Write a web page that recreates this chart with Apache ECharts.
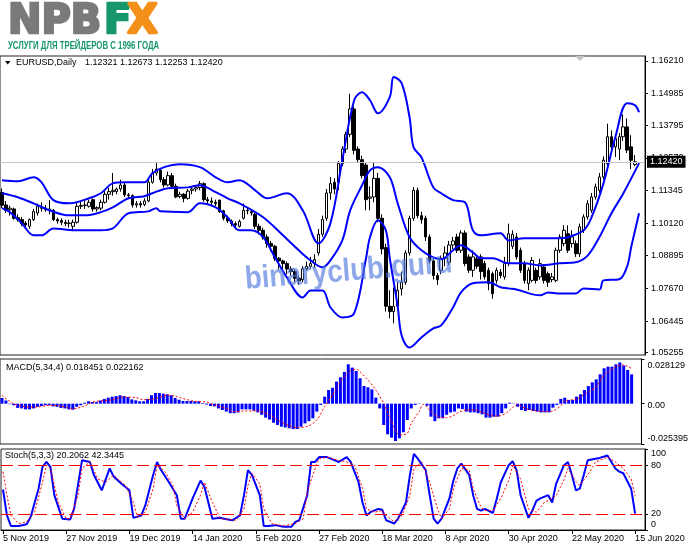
<!DOCTYPE html>
<html>
<head>
<meta charset="utf-8">
<script src="https://cdn.jsdelivr.net/npm/echarts@6.0.0/dist/echarts.min.js"></script>
<style>
  html, body { margin: 0; padding: 0; background: #fff; }
  #chart { width: 691px; height: 549px; }
</style>
</head>
<body>
<div id="chart"></div>
<script>
// x axis: one label every 16 bars
var dateLabels = ['5 Nov 2019', '27 Nov 2019', '19 Dec 2019', '14 Jan 2020', '5 Feb 2020', '27 Feb 2020',
  '18 Mar 2020', '8 Apr 2020', '30 Apr 2020', '22 May 2020', '15 Jun 2020'];
var labelStep = 16;
var slotCount = 163;

// right-hand tick labels
var priceTicks = [1.16210, 1.14985, 1.13795, 1.12570, 1.11345, 1.10120, 1.08895, 1.07670, 1.06445, 1.05255];
var macdTicks = [-0.025395, 0, 0.028129];
var stochTicks = [0, 20, 80, 100];
var stochLevels = [20, 80];
var lastPrice = 1.12420;

// daily bars: [open, close, low, high]
var candles = [
  [1.1127,1.1079,1.1068,1.1142],[1.1080,1.1060,1.1050,1.1095],[1.1062,1.1068,1.1040,1.1078],[1.1065,1.1030,1.1025,1.1070],
  [1.1032,1.1025,1.1018,1.1045],[1.1025,1.1010,1.1000,1.1035],[1.1012,1.1005,1.0995,1.1020],[1.1000,1.1025,1.0990,1.1030],
  [1.1025,1.1055,1.1020,1.1065],[1.1050,1.1075,1.1040,1.1085],[1.1070,1.1068,1.1055,1.1090],[1.1068,1.1062,1.1055,1.1080],
  [1.1058,1.1065,1.1045,1.1098],[1.1060,1.1025,1.1020,1.1065],[1.1025,1.1020,1.1010,1.1032],[1.1022,1.1015,1.1005,1.1030],
  [1.1015,1.1010,1.1000,1.1025],[1.1010,1.1012,1.0995,1.1025],[1.1000,1.1015,1.0982,1.1025],[1.1015,1.1075,1.1010,1.1090],
  [1.1075,1.1078,1.1065,1.1095],[1.1078,1.1080,1.1065,1.1100],[1.1075,1.1090,1.1070,1.1100],[1.1100,1.1065,1.1055,1.1105],
  [1.1065,1.1070,1.1055,1.1075],[1.1068,1.1090,1.1060,1.1100],[1.1090,1.1120,1.1085,1.1135],[1.1120,1.1130,1.1100,1.1145],
  [1.1130,1.1135,1.1115,1.1200],[1.1130,1.1140,1.1120,1.1145],[1.1140,1.1155,1.1130,1.1175],[1.1155,1.1118,1.1110,1.1165],
  [1.1118,1.1115,1.1105,1.1125],[1.1115,1.1080,1.1070,1.1120],[1.1080,1.1085,1.1070,1.1095],[1.1085,1.1080,1.1070,1.1095],
  [1.1082,1.1095,1.1075,1.1105],[1.1095,1.1165,1.1090,1.1175],[1.1165,1.1200,1.1160,1.1215],[1.1200,1.1215,1.1190,1.1240],
  [1.1210,1.1175,1.1165,1.1215],[1.1175,1.1155,1.1145,1.1185],[1.1155,1.1190,1.1150,1.1205],[1.1190,1.1150,1.1145,1.1200],
  [1.1150,1.1110,1.1105,1.1160],[1.1112,1.1120,1.1105,1.1130],[1.1120,1.1105,1.1090,1.1125],[1.1105,1.1132,1.1100,1.1140],
  [1.1135,1.1140,1.1120,1.1150],[1.1140,1.1145,1.1130,1.1155],[1.1145,1.1160,1.1135,1.1170],[1.1160,1.1100,1.1092,1.1165],
  [1.1100,1.1095,1.1085,1.1110],[1.1095,1.1090,1.1080,1.1108],[1.1090,1.1085,1.1075,1.1100],[1.1098,1.1055,1.1050,1.1100],
  [1.1058,1.1030,1.1022,1.1062],[1.1032,1.1020,1.1012,1.1040],[1.1020,1.1010,1.1000,1.1025],[1.1010,1.1005,1.0988,1.1018],
  [1.1000,1.1018,1.0995,1.1025],[1.1030,1.1060,1.1025,1.1085],[1.1060,1.1058,1.1045,1.1070],[1.1055,1.1050,1.1040,1.1065],
  [1.1045,1.1000,1.0990,1.1050],[1.1000,1.0985,1.0970,1.1010],[1.0985,1.0960,1.0950,1.0995],[1.0960,1.0935,1.0920,1.0970],
  [1.0935,1.0925,1.0905,1.0945],[1.0925,1.0880,1.0870,1.0930],[1.0880,1.0870,1.0840,1.0885],[1.0870,1.0860,1.0840,1.0875],
  [1.0860,1.0840,1.0820,1.0868],[1.0840,1.0830,1.0815,1.0850],[1.0830,1.0805,1.0790,1.0838],[1.0805,1.0795,1.0780,1.0815],
  [1.0800,1.0840,1.0790,1.0850],[1.0840,1.0850,1.0835,1.0868],[1.0850,1.0860,1.0840,1.0885],[1.0860,1.0875,1.0845,1.0895],
  [1.0900,1.0970,1.0890,1.0990],[1.0970,1.1025,1.0960,1.1040],[1.1030,1.1125,1.1020,1.1140],[1.1125,1.1160,1.1100,1.1185],
  [1.1165,1.1140,1.1120,1.1180],[1.1165,1.1235,1.1135,1.1245],[1.1235,1.1290,1.1225,1.1300],[1.1290,1.1345,1.1275,1.1355],
  [1.1345,1.1440,1.1335,1.1497],[1.1440,1.1285,1.1270,1.1450],[1.1290,1.1250,1.1240,1.1300],[1.1250,1.1190,1.1180,1.1265],
  [1.1230,1.1100,1.1060,1.1240],[1.1105,1.1110,1.1060,1.1150],[1.1110,1.1180,1.1090,1.1240],[1.1180,1.1030,1.1015,1.1200],
  [1.1030,1.0915,1.0895,1.1045],[1.0920,1.0700,1.0680,1.0935],[1.0700,1.0680,1.0655,1.0760],[1.0680,1.0700,1.0636,1.0770],
  [1.0700,1.0760,1.0690,1.0790],[1.0765,1.0790,1.0740,1.0830],[1.0790,1.0900,1.0780,1.0910],[1.0900,1.1030,1.0890,1.1040],
  [1.1030,1.1135,1.1020,1.1147],[1.1135,1.1040,1.1030,1.1145],[1.1040,1.1025,1.1010,1.1055],[1.1030,1.0960,1.0945,1.1040],
  [1.0960,1.0870,1.0860,1.0970],[1.0870,1.0815,1.0800,1.0880],[1.0815,1.0800,1.0780,1.0825],[1.0835,1.0880,1.0820,1.0890],
  [1.0880,1.0900,1.0850,1.0925],[1.0865,1.0930,1.0855,1.0945],[1.0930,1.0945,1.0915,1.0960],[1.0960,1.0910,1.0900,1.0972],
  [1.0910,1.0975,1.0900,1.0985],[1.0975,1.0860,1.0850,1.0985],[1.0885,1.0835,1.0825,1.0895],[1.0835,1.0885,1.0810,1.0910],
  [1.0878,1.0850,1.0840,1.0890],[1.0885,1.0830,1.0800,1.0895],[1.0860,1.0810,1.0800,1.0870],[1.0835,1.0785,1.0760,1.0845],
  [1.0822,1.0747,1.0728,1.0830],[1.0797,1.0835,1.0785,1.0845],[1.0828,1.0815,1.0805,1.0840],[1.0810,1.0860,1.0800,1.0885],
  [1.0860,1.0972,1.0850,1.1010],[1.0925,1.0970,1.0915,1.0985],[1.0960,1.0885,1.0875,1.0975],[1.0910,1.0835,1.0825,1.0920],
  [1.0860,1.0797,1.0785,1.0870],[1.0785,1.0835,1.0760,1.0845],[1.0797,1.0872,1.0790,1.0885],[1.0835,1.0797,1.0785,1.0845],
  [1.0810,1.0860,1.0800,1.0878],[1.0847,1.0797,1.0785,1.0858],[1.0822,1.0790,1.0772,1.0830],[1.0800,1.0810,1.0790,1.0825],
  [1.0797,1.0910,1.0790,1.0920],[1.0910,1.0960,1.0900,1.0970],[1.0935,1.0985,1.0925,1.1004],[1.0972,1.0910,1.0900,1.1004],
  [1.0935,1.0960,1.0920,1.0985],[1.0935,1.0897,1.0885,1.0947],[1.0897,1.0998,1.0885,1.1010],[1.0985,1.1035,1.0975,1.1045],
  [1.1035,1.1085,1.1025,1.1098],[1.1060,1.1110,1.1050,1.1125],[1.1110,1.1148,1.1100,1.1160],[1.1135,1.1185,1.1125,1.1200],
  [1.1185,1.1248,1.1175,1.1262],[1.1235,1.1336,1.1225,1.1385],[1.1336,1.1298,1.1280,1.1360],[1.1298,1.1330,1.1260,1.1340],
  [1.1290,1.1336,1.1248,1.1350],[1.1336,1.1373,1.1320,1.1420],[1.1373,1.1286,1.1275,1.1405],[1.1298,1.1248,1.1215,1.1342],
  [1.12321,1.12420,1.12253,1.12673]
];

// Bollinger bands, read as [bar, price] points along each curve
var upperBand = [[0,1.1173],[4,1.1169],[8,1.1184],[10,1.1165],[13,1.1098],[17,1.1086],[22,1.1105],[25,1.1124],
  [28,1.1161],[31,1.1165],[36,1.1165],[38,1.1199],[41,1.1222],[45,1.1233],[50,1.1222],[54,1.1184],[57,1.1165],
  [60,1.1173],[64,1.1135],[67,1.1105],[72,1.1124],[76,1.1060],[80,1.0936],[83,1.1011],[86,1.1248],[89,1.1473],
  [91,1.1503],[93,1.1473],[95,1.1424],[98,1.1485],[99,1.1560],[101,1.1537],[103,1.1409],[104,1.1297],[106,1.1259],
  [109,1.1146],[111,1.1124],[114,1.1098],[117,1.1090],[119,1.0985],[121,1.0966],[126,1.0974],[128,1.0947],
  [132,1.0955],[141,1.0955],[143,1.0959],[147,1.0985],[149,1.1034],[152,1.1161],[155,1.1334],[158,1.1462],
  [160,1.1454],[161,1.1428]];
var middleBand = [[0,1.1124],[4,1.1109],[8,1.1086],[12,1.1060],[17,1.1041],[21,1.1041],[25,1.1053],[28,1.1071],
  [32,1.1105],[36,1.1113],[38,1.1124],[42,1.1143],[47,1.1146],[50,1.1154],[54,1.1128],[57,1.1105],[60,1.1086],
  [66,1.1034],[71,1.0966],[75,1.0910],[78,1.0872],[81,1.0846],[83,1.0872],[86,1.0947],[88,1.1060],[91,1.1154],
  [93,1.1210],[95,1.1222],[98,1.1184],[100,1.1086],[103,1.0959],[106,1.0910],[109,1.0883],[111,1.0876],[114,1.0910],
  [116,1.0929],[119,1.0902],[121,1.0880],[124,1.0880],[128,1.0861],[132,1.0861],[136,1.0853],[141,1.0861],
  [145,1.0865],[148,1.0890],[151,1.0960],[154,1.1048],[157,1.1123],[161,1.1237]];
var lowerBand = [[0,1.1068],[2,1.1053],[5,1.1011],[8,1.0966],[10,1.0966],[13,1.0992],[18,1.0985],[25,1.0985],
  [28,1.0992],[32,1.1049],[37,1.1056],[39,1.1068],[40,1.1056],[47,1.1053],[50,1.1086],[54,1.1071],[57,1.1034],
  [60,1.0985],[63,1.0985],[66,1.0959],[69,1.0883],[72,1.0808],[76,1.0733],[78,1.0759],[81,1.0759],[83,1.0696],
  [86,1.0658],[89,1.0673],[92,1.0880],[93,1.0959],[95,1.1023],[97,1.0985],[98,1.0880],[100,1.0700],[101,1.0590],
  [103,1.0545],[106,1.0583],[109,1.0617],[111,1.0628],[114,1.0696],[116,1.0752],[119,1.0786],[123,1.0790],
  [126,1.0771],[128,1.0767],[130,1.0763],[136,1.0741],[138,1.0752],[141,1.0748],[145,1.0748],[147,1.0767],
  [151,1.0763],[152,1.0797],[156,1.0801],[158,1.0850],[159,1.0921],[161,1.1049]];

// MACD(5,34,4) histogram, one value per bar
var macdHist = [
  0.0036, 0.0020, -0.0003, -0.0010, -0.0027, -0.0030, -0.0036, -0.0036, -0.0030, -0.0020,
  -0.0015, -0.0010, -0.0010, -0.0017, -0.0020, -0.0027, -0.0030, -0.0036, -0.0038, -0.0020,
  -0.0010, 0.0006, 0.0015, 0.0010, 0.0010, 0.0020, 0.0030, 0.0038, 0.0044, 0.0048,
  0.0053, 0.0048, 0.0042, 0.0027, 0.0021, 0.0015, 0.0015, 0.0030, 0.0053, 0.0067,
  0.0067, 0.0063, 0.0059, 0.0053, 0.0036, 0.0025, 0.0017, 0.0017, 0.0017, 0.0015,
  0.0015, 0.0004, -0.0006, -0.0015, -0.0017, -0.0030, -0.0040, -0.0050, -0.0060, -0.0060,
  -0.0055, -0.0036, -0.0036, -0.0036, -0.0044, -0.0055, -0.0070, -0.0088, -0.0100, -0.0120,
  -0.0134, -0.0145, -0.0150, -0.0155, -0.0160, -0.0160, -0.0145, -0.0124, -0.0110, -0.0092,
  -0.0050, -0.0008, 0.0044, 0.0086, 0.0100, 0.0139, 0.0166, 0.0200, 0.0248, 0.0227,
  0.0206, 0.0160, 0.0111, 0.0103, 0.0090, 0.0038, -0.0030, -0.0134, -0.0193, -0.0214,
  -0.0235, -0.0218, -0.0180, -0.0103, -0.0030, -0.0008, 0.0002, 0.0000, -0.0013, -0.0082,
  -0.0110, -0.0092, -0.0092, -0.0070, -0.0055, -0.0050, -0.0030, -0.0034, -0.0050, -0.0055,
  -0.0055, -0.0060, -0.0067, -0.0088, -0.0088, -0.0082, -0.0082, -0.0060, -0.0030, 0.0006,
  0.0002, -0.0019, -0.0040, -0.0046, -0.0040, -0.0046, -0.0050, -0.0055, -0.0055, -0.0055,
  -0.0025, -0.0008, 0.0030, 0.0038, 0.0023, 0.0023, 0.0044, 0.0059, 0.0086, 0.0111,
  0.0134, 0.0153, 0.0185, 0.0223, 0.0233, 0.0233, 0.0248, 0.0260, 0.0240, 0.0212,
  0.018451
];
var macdSignal = [[0,0.0053],[3,0],[7,-0.0021],[9,-0.0021],[12,-0.0010],[15,-0.0015],[18,-0.0032],[21,-0.0015],
  [23,0.0010],[28,0.0025],[31,0.0042],[34,0.0038],[36,0.0025],[39,0.0032],[42,0.0053],[44,0.0048],[46,0.0032],
  [49,0.0015],[52,0.0010],[54,-0.0008],[57,-0.0029],[59,-0.0050],[62,-0.0046],[65,-0.0046],[68,-0.0071],
  [70,-0.0103],[73,-0.0139],[75,-0.0151],[78,-0.0139],[80,-0.0103],[82,-0.0019],[84,0.0055],[86,0.0139],
  [88,0.0197],[90,0.0218],[91,0.0200],[93,0.0149],[95,0.0086],[97,0.0002],[99,-0.0113],[101,-0.0197],
  [103,-0.0187],[104,-0.0124],[106,-0.0050],[107,-0.0004],[108,-0.0020],[109,-0.0050],[111,-0.0082],
  [113,-0.0088],[115,-0.0071],[116,-0.0055],[118,-0.0040],[120,-0.0040],[122,-0.0055],[125,-0.0078],
  [126,-0.0078],[128,-0.0061],[130,-0.0019],[131,-0.0008],[133,-0.0029],[136,-0.0046],[138,-0.0050],
  [140,-0.0046],[142,-0.0013],[143,0.0017],[146,0.0029],[148,0.0059],[151,0.0107],[153,0.0181],[156,0.0233],
  [158,0.0244],[159,0.0235],[160,0.022162]];

// Stochastic(5,3,3) main and signal, [bar, value] vertices
var stochMain = [[0,50],[1,18],[2,5],[4,5],[6,7],[7,16],[9,51],[10,78],[11,84],[12,78],[13,43],[15,14],[17,13],
  [18,26],[20,86],[22,84],[23,68],[25,49],[27,76],[28,66],[30,57],[32,49],[33,15],[35,18],[36,30],[38,68],[39,84],
  [40,74],[42,59],[44,43],[45,14],[46,14],[48,39],[50,61],[51,53],[53,14],[55,15],[56,14],[58,12],[60,18],[61,43],
  [62,74],[63,68],[65,43],[66,5],[67,5],[69,6],[71,4],[73,4],[74,10],[75,12],[77,43],[78,84],[79,84],[80,90],
  [82,90],[84,86],[85,84],[87,90],[88,84],[90,59],[91,34],[92,18],[93,22],[95,26],[96,25],[97,12],[98,10],[99,8],
  [100,14],[102,34],[103,68],[104,94],[105,88],[107,74],[108,43],[109,14],[110,8],[111,14],[113,39],[114,61],
  [115,76],[116,82],[118,68],[119,43],[120,26],[121,24],[122,26],[124,21],[125,39],[126,59],[128,80],[129,85],
  [130,74],[131,43],[133,15],[134,24],[135,36],[136,39],[138,43],[139,34],[140,57],[142,80],[143,84],[144,68],
  [145,49],[146,51],[147,68],[148,86],[150,88],[151,89],[153,92],[154,84],[155,76],[156,72],[157,70],[159,51],
  [160,20.2062]];
var stochSignal = [[0,72],[1,43],[2,18],[4,8],[6,10],[8,22],[10,59],[11,80],[12,76],[14,34],[16,14],[17,14],
  [19,43],[20,76],[22,84],[24,63],[26,59],[28,68],[29,63],[31,55],[33,34],[34,16],[36,22],[38,51],[39,80],[41,72],
  [43,55],[44,30],[46,14],[48,22],[50,43],[51,59],[53,34],[55,14],[59,12],[61,26],[62,55],[63,70],[65,57],[66,26],
  [68,8],[71,5],[74,8],[76,14],[77,47],[79,76],[80,88],[82,90],[85,86],[87,84],[89,80],[91,51],[92,26],[94,22],
  [96,24],[97,18],[99,10],[101,18],[103,43],[104,76],[106,84],[108,59],[110,26],[111,14],[113,26],[114,51],
  [116,76],[118,74],[119,51],[121,28],[122,24],[124,24],[126,39],[128,61],[129,80],[131,63],[133,26],[135,22],
  [137,34],[139,39],[140,42],[142,62],[143,76],[145,60],[146,55],[148,68],[150,84],[153,90],[155,84],[157,76],
  [159,63],[160,42.3445]];

var categories = [];
for (var i = 0; i < slotCount; i++) categories.push(String(i));

function isLabelBar(idx) {
  return idx % labelStep === 0 && idx / labelStep < dateLabels.length;
}

var FONT = '"Liberation Sans", Arial, sans-serif';

var chart = echarts.init(document.getElementById('chart'), null, { renderer: 'canvas' });

function hiddenX(gi) {
  return {
    gridIndex: gi, type: 'category', data: categories, boundaryGap: true,
    axisLine: { show: false }, axisTick: { show: false }, axisLabel: { show: false }, splitLine: { show: false }
  };
}

var option = {
  animation: false,
  backgroundColor: '#fff',
  textStyle: { fontFamily: FONT, fontSize: 9, color: '#000' },
  grid: [
    { left: 0, top: 56, width: 645, height: 299, show: true, borderColor: '#222', borderWidth: 1 },
    { left: 0, top: 359, width: 645, height: 85, show: true, borderColor: '#222', borderWidth: 1 },
    { left: 0, top: 449, width: 645, height: 81, show: true, borderColor: '#222', borderWidth: 1 }
  ],
  xAxis: [
    hiddenX(0),
    hiddenX(1),
    {
      gridIndex: 2, type: 'category', data: categories, boundaryGap: true,
      axisLine: { show: true, lineStyle: { color: '#000' } },
      axisTick: { show: true, alignWithLabel: true, length: 4, interval: isLabelBar, lineStyle: { color: '#000' } },
      axisLabel: {
        interval: isLabelBar, align: 'left', margin: 4, fontSize: 9, color: '#000',
        formatter: function (v, idx) { return dateLabels[idx / labelStep] || ''; }
      },
      splitLine: { show: false }
    }
  ],
  yAxis: [
    {
      gridIndex: 0, type: 'value', position: 'right', min: 1.0517, max: 1.1639,
      splitLine: { show: false },
      axisLine: { show: true, lineStyle: { color: '#000' } },
      axisTick: { show: true, length: 3, customValues: priceTicks, lineStyle: { color: '#000' } },
      axisLabel: { customValues: priceTicks, margin: 6, fontSize: 9, color: '#000',
        formatter: function (v) { return v.toFixed(5); } }
    },
    {
      gridIndex: 1, type: 'value', position: 'right', min: macdTicks[0], max: macdTicks[2],
      splitLine: { show: false },
      axisLine: { show: true, lineStyle: { color: '#000' } },
      axisTick: { show: true, length: 3, customValues: macdTicks, lineStyle: { color: '#000' } },
      axisLabel: {
        customValues: macdTicks, margin: 6, fontSize: 9, color: '#000',
        formatter: function (v) {
          if (v > 0.01) return '{t|' + v.toFixed(6) + '}';
          if (v < -0.01) return '{b|' + v.toFixed(6) + '}';
          return '{z|0.00}';
        },
        rich: {
          t: { padding: [13, 0, 0, 0], fontSize: 9, color: '#000', fontFamily: FONT },
          b: { padding: [0, 0, 11, 0], fontSize: 9, color: '#000', fontFamily: FONT },
          z: { padding: [4, 0, 0, 0], fontSize: 9, color: '#000', fontFamily: FONT }
        }
      }
    },
    {
      gridIndex: 2, type: 'value', position: 'right', min: 0, max: 100,
      splitLine: { show: false },
      axisLine: { show: true, lineStyle: { color: '#000' } },
      axisTick: { show: true, length: 3, customValues: stochTicks, lineStyle: { color: '#000' } },
      axisLabel: {
        customValues: stochTicks, margin: 6, fontSize: 9, color: '#000',
        formatter: function (v) {
          if (v === 100) return '{t|100}';
          if (v === 0) return '{b|0}';
          return String(v);
        },
        rich: {
          t: { padding: [10, 0, 0, 0], fontSize: 9, color: '#000', fontFamily: FONT },
          b: { padding: [0, 0, 11, 0], fontSize: 9, color: '#000', fontFamily: FONT }
        }
      }
    }
  ],
  series: [
    {
      name: 'EURUSD', type: 'candlestick', xAxisIndex: 0, yAxisIndex: 0, data: candles,
      barWidth: 3, z: 2,
      itemStyle: { color: '#fff', color0: '#000', borderColor: '#000', borderColor0: '#000', borderWidth: 1 }
    },
    // current price line and its black tag sit on this helper series
    {
      name: 'last price', type: 'line', xAxisIndex: 0, yAxisIndex: 0, data: [], z: 1,
      markLine: {
        silent: true, symbol: ['none', 'none'], animation: false, precision: 5,
        lineStyle: { color: '#c4c4c4', type: 'solid', width: 1 },
        label: {
          show: true, position: 'end', distance: 2, formatter: lastPrice.toFixed(5),
          color: '#fff', backgroundColor: '#000', padding: [2, 3, 1, 3], fontSize: 9, fontFamily: FONT
        },
        data: [{ yAxis: lastPrice }]
      }
    },
    { name: 'BB upper', type: 'line', xAxisIndex: 0, yAxisIndex: 0, data: upperBand, smooth: 0.35,
      symbol: 'none', z: 3, lineStyle: { color: '#0000ff', width: 2 } },
    { name: 'BB middle', type: 'line', xAxisIndex: 0, yAxisIndex: 0, data: middleBand, smooth: 0.35,
      symbol: 'none', z: 3, lineStyle: { color: '#0000ff', width: 2 } },
    { name: 'BB lower', type: 'line', xAxisIndex: 0, yAxisIndex: 0, data: lowerBand, smooth: 0.35,
      symbol: 'none', z: 3, lineStyle: { color: '#0000ff', width: 2 } },
    { name: 'MACD', type: 'bar', xAxisIndex: 1, yAxisIndex: 1, data: macdHist, barWidth: 3,
      itemStyle: { color: '#0000ff' } },
    { name: 'MACD signal', type: 'line', xAxisIndex: 1, yAxisIndex: 1, data: macdSignal, smooth: 0.3,
      symbol: 'none', z: 3, lineStyle: { color: '#ff0000', width: 1, type: [2, 2] } },
    {
      name: 'Stoch', type: 'line', xAxisIndex: 2, yAxisIndex: 2, data: stochMain,
      symbol: 'none', z: 3, lineStyle: { color: '#0000ff', width: 2 },
      markLine: {
        silent: true, symbol: ['none', 'none'], label: { show: false }, animation: false,
        lineStyle: { color: '#ff0000', type: [12, 5], width: 1 },
        data: stochLevels.map(function (v) { return { yAxis: v }; })
      }
    },
    { name: 'Stoch signal', type: 'line', xAxisIndex: 2, yAxisIndex: 2, data: stochSignal,
      symbol: 'none', z: 3, lineStyle: { color: '#ff0000', width: 1, type: [2, 2] } }
  ],
  graphic: [
    { type: 'text', x: 8, y: 23, style: { text: 'NPB', font: 'bold 40px "DejaVu Sans"', fill: '#7a7a7a',
      stroke: '#7a7a7a', lineWidth: 2.5, verticalAlign: 'middle' } },
    { type: 'text', x: 104, y: 23, style: { text: 'F', font: 'bold 40px "DejaVu Sans"', fill: '#17976b',
      stroke: '#17976b', lineWidth: 2.5, verticalAlign: 'middle' } },
    { type: 'text', x: 127, y: 23, style: { text: 'X', font: 'bold 40px "DejaVu Sans"', fill: '#f39019',
      stroke: '#f39019', lineWidth: 2.5, verticalAlign: 'middle' } },
    { type: 'text', x: 8, y: 46, scaleX: 0.71,
      style: { text: 'УСЛУГИ ДЛЯ ТРЕЙДЕРОВ С 1996 ГОДА', font: 'bold 11px "Liberation Sans"', fill: '#17976b', verticalAlign: 'middle' } },
    { type: 'polygon', shape: { points: [[5, 61], [10.5, 61], [7.75, 64.5]] }, style: { fill: '#000' } },
    { type: 'text', x: 16, y: 63, style: { text: 'EURUSD,Daily', font: '9px ' + FONT, fill: '#000', verticalAlign: 'middle' } },
    { type: 'text', x: 85, y: 63, style: { text: '1.12321 1.12673 1.12253 1.12420', font: '9px ' + FONT, fill: '#000', verticalAlign: 'middle' } },
    { type: 'text', x: 6, y: 368, style: { text: 'MACD(5,34,4) 0.018451 0.022162', font: '9px ' + FONT, fill: '#000', verticalAlign: 'middle' } },
    { type: 'text', x: 5, y: 456, style: { text: 'Stoch(5,3,3) 20.2062 42.3445', font: '9px ' + FONT, fill: '#000', verticalAlign: 'middle' } },
    { type: 'polygon', shape: { points: [[575, 56], [585, 56], [580, 61]] }, style: { fill: '#c0c0c0' } },
    { type: 'text', x: 245, y: 280, rotation: 0.08, scaleX: 0.86, z: 100,
      style: { text: 'binaryclub.guru', font: 'bold 32px "Liberation Sans"', fill: 'rgba(80,120,220,0.65)', verticalAlign: 'middle' } }
  ]
};

chart.setOption(option);

window.addEventListener('resize', function () {
  chart.resize();
});
</script>
</body>
</html>
